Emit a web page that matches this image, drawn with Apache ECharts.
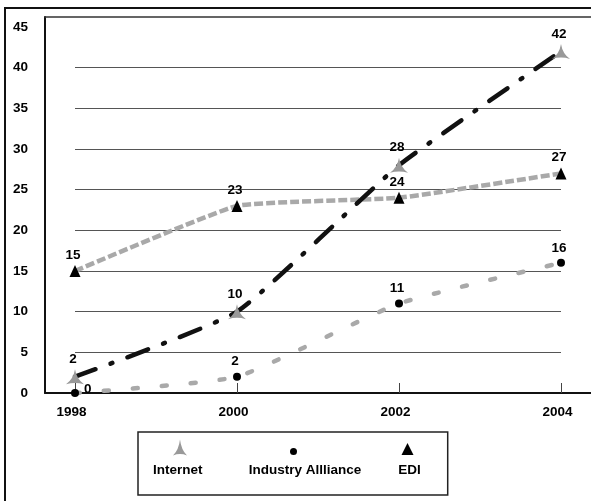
<!DOCTYPE html>
<html>
<head>
<meta charset="utf-8">
<script src="https://cdn.jsdelivr.net/npm/echarts@6/dist/echarts.min.js"></script>
<style>
html,body{margin:0;padding:0;background:#fff;}
#chart{width:591px;height:501px;}
</style>
</head>
<body>
<div id="chart"></div>
<script>
// ---- data ----
const years = [1998, 2000, 2002, 2004];
const internet = [2, 10, 28, 42];
const industry = [0, 2, 11, 16];
const edi = [15, 23, 24, 27];
const seriesNames = ['Internet', 'Industry Allliance', 'EDI'];
const yMin = 0, yMax = 45, yStep = 5;

// ---- styling ----
const FONT = "'Liberation Sans', Arial, sans-serif";
const STAR = 'path://M0 -10 Q1.8 0.5 10 6 Q0 3.2 -10 6 Q-1.8 0.5 0 -10 Z';
const GRAY = '#a9a9a9';
const boldText = { fontFamily: FONT, fontWeight: 'bold', fontSize: 13.5, color: '#000' };

const pairs = arr => years.map((y, i) => [y, arr[i]]);

const chart = echarts.init(document.getElementById('chart'), null, { renderer: 'canvas' });

const iconLegend = (name, icon, color, w, h, left, top) => ({
  data: [{ name: name, icon: icon, itemStyle: { color: color, borderWidth: 0 } }],
  left: left, top: top, padding: 0,
  itemWidth: w, itemHeight: h, symbolKeepAspect: false,
  formatter: () => '',
  selectedMode: false,
  itemStyle: { borderWidth: 0 }
});

const option = {
  animation: false,
  backgroundColor: '#fff',
  graphic: [{
    type: 'rect', silent: true,
    shape: { x: 5, y: 8, width: 600, height: 600 },
    style: { fill: 'none', stroke: '#111', lineWidth: 2 }
  }],
  grid: [
    { left: 75, right: 30, top: 27, bottom: 108 },
    { left: 45, right: 0, top: 17, bottom: 108 }
  ],
  legend: [
    iconLegend(seriesNames[0], STAR, '#999', 14, 16, 173, 439.5),
    iconLegend(seriesNames[1], 'circle', '#000', 7, 7, 290, 448),
    iconLegend(seriesNames[2], 'triangle', '#000', 12, 12, 401.5, 443),
    {
      data: seriesNames.map(n => ({ name: n, icon: 'none' })),
      formatter: n => n === seriesNames[0] ? n + '{s|   }' : n,
      left: 138, top: 432,
      padding: [31, 27, 18, 10],
      itemGap: 32, itemWidth: 0, itemHeight: 14,
      borderColor: '#222', borderWidth: 1.5,
      selectedMode: false,
      textStyle: {
        fontFamily: FONT, fontWeight: 'bold', fontSize: 13.5, color: '#000',
        rich: { s: { fontSize: 11 } }
      }
    }
  ],
  xAxis: [
    {
      gridIndex: 0, type: 'value', min: years[0], max: years[years.length - 1], interval: 2,
      axisLine: { show: false },
      axisTick: { show: true, inside: true, length: 10, lineStyle: { color: '#444', width: 1 } },
      axisLabel: Object.assign({ margin: 12, padding: [0, 7, 0, 0], formatter: v => String(v) }, boldText),
      splitLine: { show: false }
    },
    {
      gridIndex: 1, type: 'value', min: 0, max: 1, position: 'bottom',
      axisLine: { show: true, onZero: false, lineStyle: { color: '#111', width: 2 } },
      axisTick: { show: false }, axisLabel: { show: false }, splitLine: { show: false }
    },
    {
      gridIndex: 1, type: 'value', min: 0, max: 1, position: 'top',
      axisLine: { show: true, onZero: false, lineStyle: { color: '#333', width: 1.5 } },
      axisTick: { show: false }, axisLabel: { show: false }, splitLine: { show: false }
    }
  ],
  yAxis: [
    {
      gridIndex: 0, type: 'value', min: yMin, max: yMax, interval: yStep,
      axisLine: { show: false }, axisTick: { show: false }, axisLabel: { show: false },
      splitLine: { show: true, showMinLine: false, showMaxLine: false, lineStyle: { color: '#555', width: 1 } }
    },
    {
      gridIndex: 1, type: 'value', min: yMin, max: yMax * 376 / 366, interval: yStep,
      axisLine: { show: true, onZero: false, lineStyle: { color: '#111', width: 2 } },
      axisTick: { show: false },
      axisLabel: Object.assign({ margin: 17, showMaxLabel: false }, boldText),
      splitLine: { show: false }
    }
  ],
  series: [
    {
      name: seriesNames[1], type: 'line', xAxisIndex: 0, yAxisIndex: 0,
      data: pairs(industry).map((p, i) => i === 0
        ? { value: p, label: { position: 'right', distance: 3, offset: [2, -4] } }
        : p),
      smooth: 0.15, clip: false, z: 2,
      symbol: 'circle', symbolSize: 8,
      itemStyle: { color: '#000', borderWidth: 0 },
      lineStyle: { color: GRAY, width: 4.5, type: [5, 24], cap: 'round' },
      label: Object.assign({ show: true, position: 'top', distance: 4, offset: [-2, 0] }, boldText),
      emphasis: { disabled: true }
    },
    {
      name: seriesNames[2], type: 'line', xAxisIndex: 0, yAxisIndex: 0,
      data: pairs(edi),
      smooth: 0.12, clip: false, z: 3,
      symbol: 'triangle', symbolSize: [11, 12],
      itemStyle: { color: '#000', borderWidth: 0 },
      lineStyle: { color: GRAY, width: 4.5, type: [9, 3], cap: 'butt' },
      label: Object.assign({ show: true, position: 'top', distance: 3, offset: [-2, 0] }, boldText),
      emphasis: { disabled: true }
    },
    {
      name: seriesNames[0], type: 'line', xAxisIndex: 0, yAxisIndex: 0,
      data: pairs(internet),
      smooth: 0.15, clip: false, z: 4,
      symbol: STAR, symbolSize: [18, 15],
      itemStyle: { color: '#999', borderWidth: 0 },
      lineStyle: { color: '#111', width: 4.5, type: [22, 16, 2, 16], cap: 'round' },
      label: Object.assign({ show: true, position: 'top', distance: 3, offset: [-2, 0] }, boldText),
      emphasis: { disabled: true }
    }
  ]
};

chart.setOption(option);
</script>
</body>
</html>
